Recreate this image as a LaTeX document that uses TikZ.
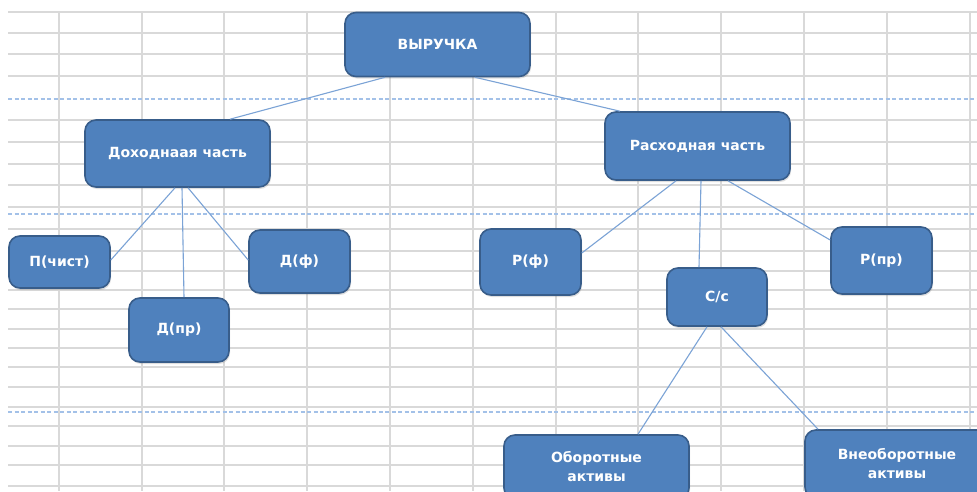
\documentclass[tikz,border=0pt]{standalone}
\usepackage{fontspec}
\newfontfamily\boxfont{DejaVu Sans}
\usetikzlibrary{calc,shadows}
\definecolor{gridgray}{HTML}{D9D9D9}
\definecolor{breakblue}{HTML}{A3C1E8}
\definecolor{boxfill}{HTML}{4F81BD}
\definecolor{boxline}{HTML}{385D8A}
\definecolor{linkblue}{HTML}{7BA3D6}
\tikzset{
  box/.style={rectangle, rounded corners=11pt, fill=boxfill, draw=boxline, line width=1.6pt,
    text=white, font=\boxfont\bfseries\fontsize{14}{19}\selectfont, align=center,
    inner sep=0pt, anchor=center,
    drop shadow={shadow xshift=1pt, shadow yshift=-2pt, opacity=0.25}},
  link/.style={draw=linkblue, line width=1.1pt},
  gridline/.style={draw=gridgray, line width=1.2pt},
  pagebreak/.style={draw=breakblue, line width=1.3pt, dash pattern=on 4pt off 2.5pt},
}
\begin{document}
\begin{tikzpicture}[x=1pt,y=-1pt]
\useasboundingbox (0,0) rectangle (977,491);
\clip (0,0) rectangle (977,491);
\fill[white] (0,0) rectangle (977,491);
% grid
\foreach \yy in {12,33,54,76,120,142,164,185,207,229,251,271,290,309,329,348,367,387,407,426,446,465,486}
  \draw[gridline] (8,\yy) -- (977,\yy);
\foreach \xx in {59,142,224,307,390,473,556,638,721,804,887,970}
  \draw[gridline] (\xx,12) -- (\xx,491);
% page breaks
\foreach \yy in {99,214,412}
  \draw[pagebreak] (8,\yy) -- (977,\yy);
% nodes
\node[box, minimum width=185pt, minimum height=64pt] (vyr) at (437.5,44.5) {ВЫРУЧКА};
\node[box, minimum width=185pt, minimum height=67pt] (doh) at (177.5,153.5) {Доходнаая часть};
\node[box, minimum width=185pt, minimum height=68pt] (ras) at (697.5,146) {Расходная часть};
\node[box, minimum width=101pt, minimum height=52pt] (pch) at (59.5,262) {П(чист)};
\node[box, minimum width=100pt, minimum height=64pt] (dpr) at (179,330) {Д(пр)};
\node[box, minimum width=101pt, minimum height=63pt] (df) at (299.5,261.5) {Д(ф)};
\node[box, minimum width=101pt, minimum height=66pt] (rf) at (530.5,262) {Р(ф)};
\node[box, minimum width=100pt, minimum height=58pt] (ss) at (717,297) {С/с};
\node[box, minimum width=101pt, minimum height=67pt] (rpr) at (881.5,260.5) {Р(пр)};
\node[box, minimum width=185pt, minimum height=64pt] (obor) at (596.5,467) {Оборотные\\активы};
\node[box, minimum width=184pt, minimum height=68pt] (vneob) at (897,464) {Внеоборотные\\активы};
% connectors
\draw[link] ($(vyr.south)+(-52.5,0)$) -- ($(doh.north)+(52.5,0)$);
\draw[link] ($(vyr.south)+(37.5,0)$) -- ($(ras.north)+(-77.5,0)$);
\draw[link] ($(doh.south)+(-2.5,0)$) -- ($(pch.east)+(0,-2)$);
\draw[link] ($(doh.south)+(4.5,0)$) -- ($(dpr.north)+(5,0)$);
\draw[link] ($(doh.south)+(10.5,0)$) -- ($(df.west)+(0,-1.5)$);
\draw[link] ($(ras.south)+(-21.5,0)$) -- ($(rf.east)+(0,-9)$);
\draw[link] ($(ras.south)+(3.5,0)$) -- ($(ss.north)+(-18,0)$);
\draw[link] ($(ras.south)+(30.5,0)$) -- ($(rpr.west)+(0,-20.5)$);
\draw[link] ($(ss.south)+(-10,0)$) -- ($(obor.north)+(41.5,0)$);
\draw[link] ($(ss.south)+(4,0)$) -- ($(vneob.north)+(-79,0)$);
\end{tikzpicture}
\end{document}
